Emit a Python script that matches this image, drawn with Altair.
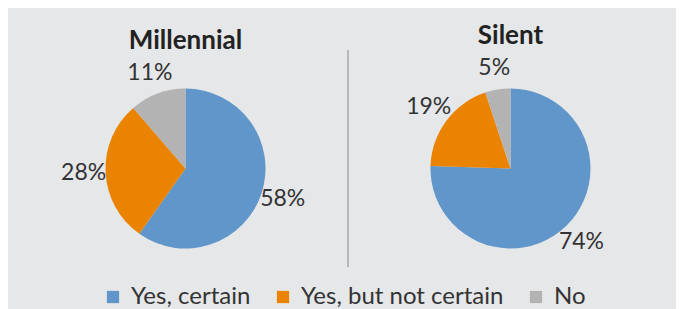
import altair as alt
import pandas as pd

groups = ["Millennial", "Silent"]
categories = ["Yes, certain", "Yes, but not certain", "No"]
millennial_values = [58, 28, 11]
silent_values = [74, 19, 5]
colors = ["#6096c9", "#e98300", "#b3b3b3"]

FONT = "Lato"
BG = "#e6e7e9"

rows = []
for g, vals in zip(groups, [millennial_values, silent_values]):
    for i, (c, v) in enumerate(zip(categories, vals)):
        rows.append({"group": g, "category": c, "value": v, "order": i, "label": f"{v}%"})
df = pd.DataFrame(rows)

color_scale = alt.Scale(domain=categories, range=colors)

VIEW_H = 207


def pie(g):
    base = alt.Chart(df).transform_filter(alt.datum.group == g).encode(
        theta=alt.Theta("value:Q", stack=True),
        order=alt.Order("order:Q", sort="ascending"),
    )
    arc = base.mark_arc(outerRadius=80, stroke=None).encode(
        color=alt.Color(
            "category:N",
            scale=color_scale,
            sort=categories,
            title=None,
            legend=alt.Legend(
                orient="none",
                legendX=73,
                legendY=220,
                direction="horizontal",
                symbolType="square",
                symbolSize=150,
                symbolStrokeWidth=0,
                labelFontSize=24,
                labelFont=FONT,
                labelColor="#333333",
                labelOffset=6,
                columnPadding=20,
                padding=0,
                labelLimit=400,
            ),
        )
    )
    text = base.mark_text(radius=102, fontSize=23, font=FONT, color="#333333").encode(
        text="label:N"
    )
    return alt.layer(arc, text).properties(
        width=315,
        height=VIEW_H,
        title=alt.TitleParams(g, fontSize=26, font=FONT, fontWeight="bold", color="#222222", offset=4, dy=-4),
    )


divider = alt.Chart(pd.DataFrame({"d": [0]})).mark_rule(color="#a8a8a8", strokeWidth=1.5).encode(
    x=alt.value(5), y=alt.value(-15), y2=alt.value(202)
).properties(
    width=10,
    height=VIEW_H,
    title=alt.TitleParams(" ", fontSize=26, font=FONT, fontWeight="bold", offset=4, dy=-4),
)

chart = alt.hconcat(pie("Millennial"), divider, pie("Silent"), spacing=0).properties(
    background=BG,
    padding={"left": 20, "right": 8, "top": 7, "bottom": 8},
).configure_view(stroke=None).configure_concat(spacing=0)

chart.save("out.html", embed_options={"renderer": "svg", "actions": False})
